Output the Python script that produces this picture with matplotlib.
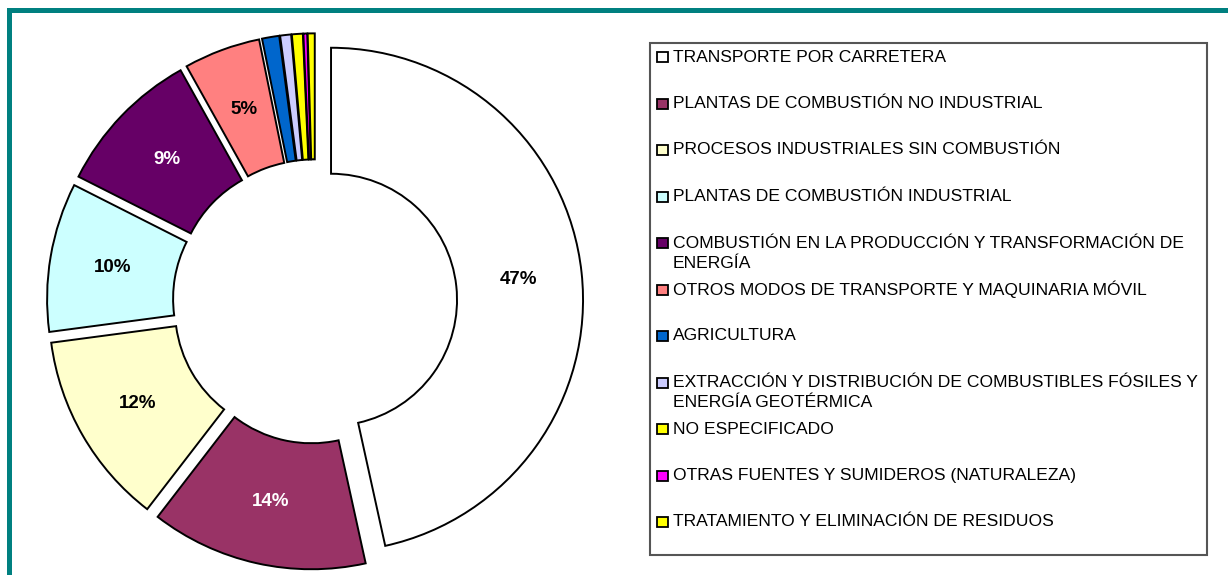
import matplotlib
matplotlib.use('Agg')
import matplotlib.pyplot as plt
from matplotlib.patches import Rectangle

plt.rcParams['font.family'] = ['Liberation Sans', 'DejaVu Sans']

# datos (porcentaje de emisiones por sector)
categorias = [
    'TRANSPORTE POR CARRETERA',
    'PLANTAS DE COMBUSTIÓN NO INDUSTRIAL',
    'PROCESOS INDUSTRIALES SIN COMBUSTIÓN',
    'PLANTAS DE COMBUSTIÓN INDUSTRIAL',
    'COMBUSTIÓN EN LA PRODUCCIÓN Y TRANSFORMACIÓN DE\nENERGÍA',
    'OTROS MODOS DE TRANSPORTE Y MAQUINARIA MÓVIL',
    'AGRICULTURA',
    'EXTRACCIÓN Y DISTRIBUCIÓN DE COMBUSTIBLES FÓSILES Y\nENERGÍA GEOTÉRMICA',
    'NO ESPECIFICADO',
    'OTRAS FUENTES Y SUMIDEROS (NATURALEZA)',
    'TRATAMIENTO Y ELIMINACIÓN DE RESIDUOS',
]
valores = [46.55, 13.9, 12.45, 9.55, 9.45, 4.9, 1.1, 0.7, 0.7, 0.25, 0.45]
colores = ['#FFFFFF', '#993366', '#FFFFCC', '#CCFFFF', '#660066', '#FF8080',
           '#0066CC', '#CCCCFF', '#FFFF00', '#FF00FF', '#FFFF00']
color_etiqueta = ['black', 'white', 'black', 'black', 'white', 'black',
                  'black', 'black', 'black', 'black', 'black']

W, H = 1228, 575
fig = plt.figure(figsize=(W / 100, H / 100), dpi=100)

# donut
ax = fig.add_axes([0, 0, 630 / W, 1])

def fmt(p):
    return '%.0f%%' % p if p >= 2 else ''

wedges, texts, autotexts = ax.pie(
    valores, colors=colores, startangle=90, counterclock=False,
    explode=[0.064] * len(valores), radius=1,
    wedgeprops=dict(width=0.5, edgecolor='black', linewidth=1.4),
    autopct=fmt, pctdistance=0.75,
    textprops=dict(fontsize=13.5, fontweight='bold'))
for t, c in zip(autotexts, color_etiqueta):
    t.set_color(c)
ax.set_aspect('auto')
ax.set_xlim(-1.25, 1.25)
ax.set_ylim(-273.5 / 252, 301.5 / 252)
ax.axis('off')

# leyenda hecha a mano
def fy(y):
    return 1 - y / H

fig.patches.append(Rectangle((650 / W, fy(555)), 557 / W, 512 / H,
                             transform=fig.transFigure, facecolor='white',
                             edgecolor='#555555', linewidth=1.5))
paso = 46.5
for i, (cat, col) in enumerate(zip(categorias, colores)):
    y0 = 57 + i * paso
    fig.patches.append(Rectangle((657 / W, fy(y0 + 5)), 11 / W, 10 / H,
                                 transform=fig.transFigure, facecolor=col,
                                 edgecolor='black', linewidth=1.3))
    for j, linea in enumerate(cat.split('\n')):
        fig.text(673 / W, fy(y0 + j * 20), linea, fontsize=12.6,
                 va='center', ha='left', color='black')

# marco verde azulado
fig.patches.append(Rectangle((7 / W, 0), 5 / W, fy(8), transform=fig.transFigure,
                             facecolor='#008080', edgecolor='none'))
fig.patches.append(Rectangle((7 / W, fy(13)), 1 - 7 / W, 5 / H,
                             transform=fig.transFigure, facecolor='#008080',
                             edgecolor='none'))

fig.savefig('out.png', dpi=100)
